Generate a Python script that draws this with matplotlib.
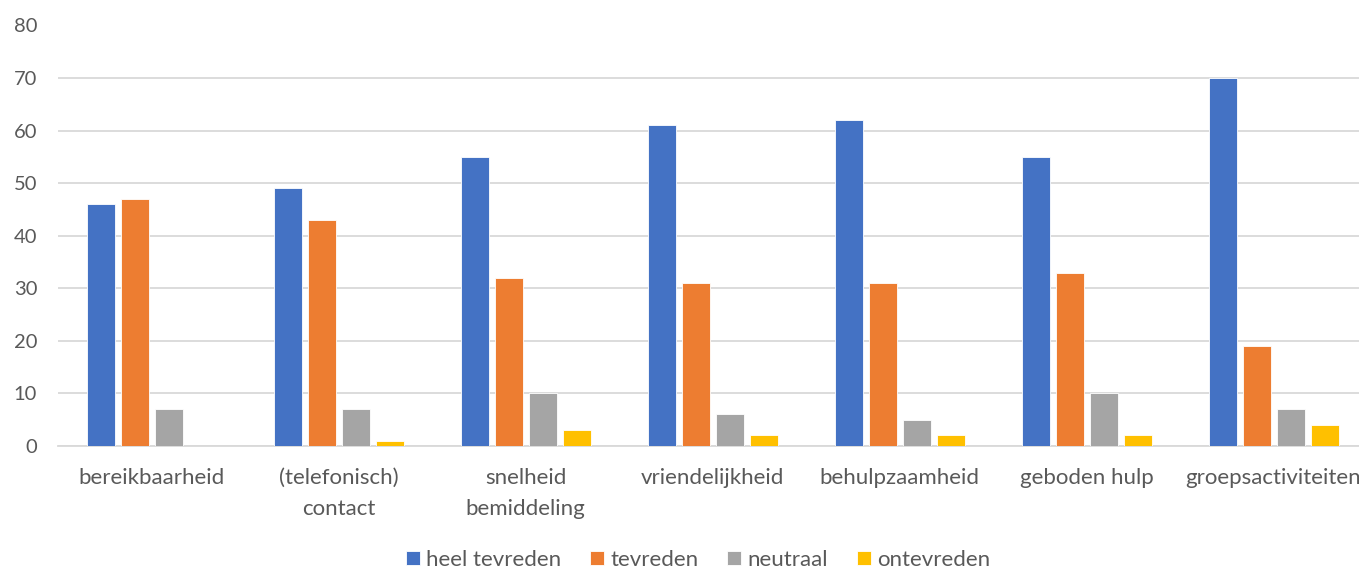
import matplotlib
matplotlib.use("Agg")
import matplotlib.pyplot as plt
import numpy as np

categories = ["bereikbaarheid", "(telefonisch)\ncontact", "snelheid\nbemiddeling",
              "vriendelijkheid", "behulpzaamheid", "geboden hulp", "groepsactiviteiten"]
series_names = ["heel tevreden", "tevreden", "neutraal", "ontevreden"]
heel_tevreden = [46, 49, 55, 61, 62, 55, 70]
tevreden = [47, 43, 32, 31, 31, 33, 19]
neutraal = [7, 7, 10, 6, 5, 10, 7]
ontevreden = [0, 1, 3, 2, 2, 2, 4]
colors = ["#4472C4", "#ED7D31", "#A5A5A5", "#FFC000"]

plt.rcParams['font.family'] = ['Lato', 'DejaVu Sans']
txt = "#595959"
grid = "#D9D9D9"

fig = plt.figure(figsize=(13.59, 5.69), dpi=100)
L = 58 / 1359
R = 1367 / 1359
ax = fig.add_axes([L, 1 - 446 / 569, R - L, (446 - 25.5) / 569])

x = np.arange(len(categories))
step = 34 / 187
width = 28 / 187
for i, (vals, name) in enumerate(zip([heel_tevreden, tevreden, neutraal, ontevreden], series_names)):
    ax.bar(x + (i - 1.5) * step, vals, width, color=colors[i], label=name,
           edgecolor="white", linewidth=0.6, zorder=3)

ax.set_xlim(-0.5, len(categories) - 0.5)
ax.set_ylim(0, 80)
ax.set_yticks(range(0, 81, 10))
ax.yaxis.grid(True, color=grid, linewidth=1.3, zorder=0)
ax.set_axisbelow(True)
for s in ["top", "right", "left"]:
    ax.spines[s].set_visible(False)
ax.spines["bottom"].set_color(grid)
ax.spines["bottom"].set_linewidth(1.3)
ax.set_xticks(x)
ax.set_xticklabels(categories, linespacing=1.65)
ax.tick_params(axis="both", length=0, colors=txt)
ax.tick_params(axis="x", pad=16, labelsize=16)
ax.tick_params(axis="y", pad=15, labelsize=14.5)

fig.legend(loc="center", bbox_to_anchor=(698 / 1359, 1 - 560 / 569), ncol=4, frameon=False,
           fontsize=16, labelcolor=txt, handlelength=0.63, handleheight=0.63,
           handletextpad=0.28, columnspacing=1.3)

fig.savefig("out.png", dpi=100)
